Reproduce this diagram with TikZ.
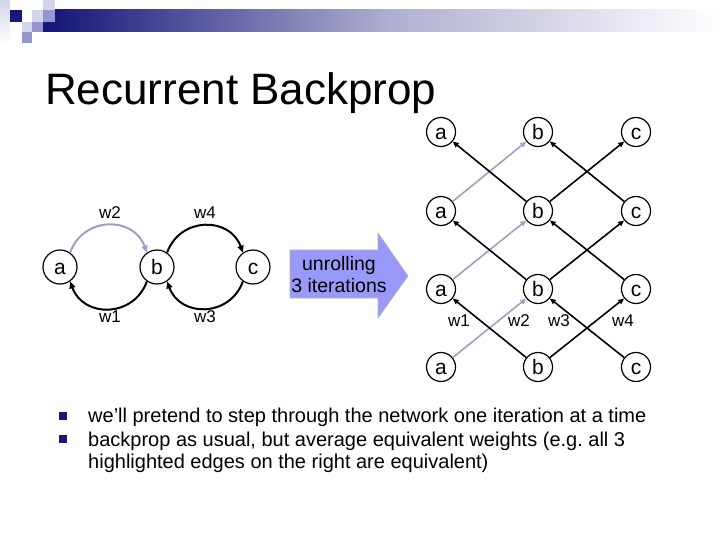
\documentclass[tikz,border=0pt]{standalone}
\usepackage{fontspec}
\setmainfont{Liberation Sans}
\usetikzlibrary{arrows.meta}
\definecolor{navy}{RGB}{24,24,122}
\definecolor{hl}{RGB}{160,158,196}
\definecolor{arrfill}{RGB}{153,153,250}
\definecolor{lav1}{RGB}{212,212,236}
\definecolor{lav2}{RGB}{150,150,204}
\frenchspacing
\tikzset{
  nd/.style={circle, draw, line width=1.2bp, minimum size=29bp, inner sep=0pt, text height=15bp, text depth=0pt, font=\fontsize{21bp}{24bp}\selectfont},
  lnd/.style={nd, minimum size=34bp},
  wl/.style={font=\fontsize{17bp}{20bp}\selectfont, inner sep=0pt},
  edge/.style={line width=1.6bp, -{Triangle[length=6bp,width=5bp]}},
  arcedge/.style={line width=2bp, -{Triangle[length=7bp,width=6bp]}},
  bul/.style={font=\fontsize{20bp}{22bp}\selectfont, anchor=base west, inner sep=0pt},
}
\begin{document}
\begin{tikzpicture}[x=1bp,y=1bp]
\useasboundingbox (0,0) rectangle (720,-540);
% header decoration
\shade[left color=navy, right color=white, middle color=navy!35!white] (55,-10) rectangle (720,-32);
\shade[top color=lav1, bottom color=white] (0,0) rectangle (10,-43);
\fill[navy] (10,-10) rectangle (22,-22);
\fill[lav1] (32,-10) rectangle (43,-22);
\fill[lav1] (43,0) rectangle (55,-10);
\fill[lav2] (43,-10) rectangle (55,-22);
\fill[lav1] (22,-22) rectangle (32,-32);
\fill[lav2] (32,-22) rectangle (43,-32);
\fill[navy] (43,-22) rectangle (55,-32);
\fill[lav2] (22,-32) rectangle (32,-43);
% title
\node[anchor=base west, inner sep=0pt, font=\fontsize{44bp}{50bp}\selectfont] (title) at (45,-105) {Recurrent Backprop};
% left graph
\node[lnd] (la) at (60,-267) {a};
\node[lnd] (lb) at (157,-267) {b};
\node[lnd] (lc) at (253,-267) {c};
\draw[arcedge, hl] (la.55) to[out=70,in=110,looseness=1.3] (lb.125);
\draw[arcedge] (lb.55) to[out=70,in=110,looseness=1.3] (lc.125);
\draw[arcedge] (lb.-125) to[out=-110,in=-70,looseness=1.3] (la.-55);
\draw[arcedge] (lc.-125) to[out=-110,in=-70,looseness=1.3] (lb.-55);
\node[wl] (lw2) at (110,-213) {w2};
\node[wl] (lw4) at (205,-213) {w4};
\node[wl] (lw1) at (110,-317) {w1};
\node[wl] (lw3) at (205,-317) {w3};
% unrolling arrow
\fill[arrfill, draw=gray!60, line width=0.6bp] (290,-250) -- (378,-250) -- (378,-233) -- (408,-276) -- (378,-318) -- (378,-298) -- (290,-298) -- cycle;
\node[align=center, inner sep=0pt, font=\fontsize{19.5bp}{22bp}\selectfont] (unroll) at (339,-275) {unrolling\\3 iterations};
% right graph
\foreach \r/\y in {1/-132,2/-211,3/-289,4/-367}{
  \node[nd] (r\r a) at (441,\y) {a};
  \node[nd] (r\r b) at (538,\y) {b};
  \node[nd] (r\r c) at (636,\y) {c};
}
\foreach \lo/\up in {2/1,3/2,4/3}{
  \draw[edge, hl] (r\lo a) -- (r\up b);
  \draw[edge] (r\lo b) -- (r\up a);
  \draw[edge] (r\lo b) -- (r\up c);
  \draw[edge] (r\lo c) -- (r\up b);
}
\node[wl] (rw1) at (459,-321) {w1};
\node[wl] (rw2) at (519,-321) {w2};
\node[wl] (rw3) at (559,-321) {w3};
\node[wl] (rw4) at (623,-321) {w4};
% bullets
\fill[navy] (59,-412) rectangle (67,-420) coordinate (b1);
\fill[navy] (59,-435) rectangle (67,-443) coordinate (b2);
\node[bul] (t1) at (88,-422) {we’ll pretend to step through the network one iteration at a time};
\node[bul] (t2) at (88,-446) {backprop as usual, but average equivalent weights (e.g. all 3};
\node[bul] (t3) at (88,-468) {highlighted edges on the right are equivalent)};
\end{tikzpicture}
\end{document}
